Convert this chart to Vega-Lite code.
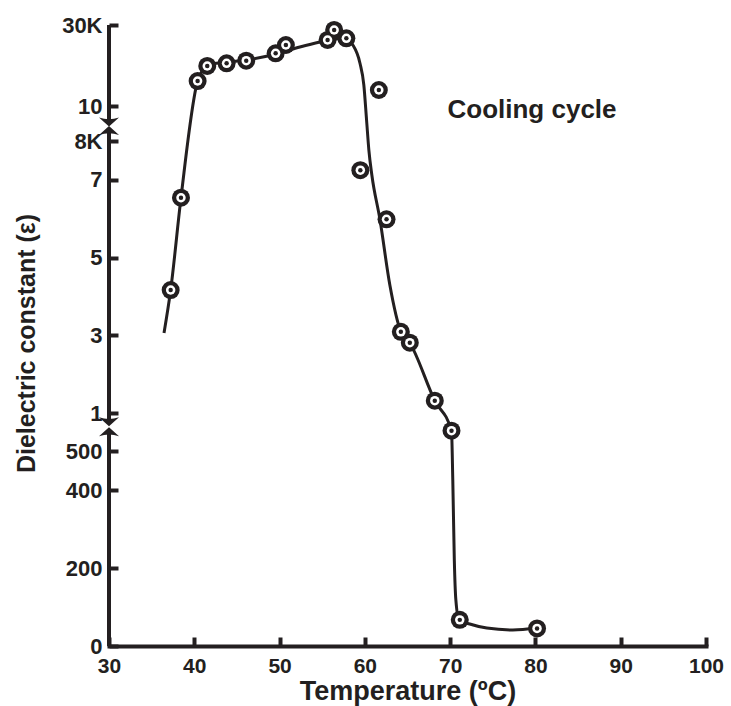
{
  "$schema": "https://vega.github.io/schema/vega-lite/v6.json",
  "width": 597,
  "height": 621,
  "autosize": {"type": "none"},
  "padding": {"left": 109, "top": 25, "right": 25, "bottom": 60},
  "background": "white",
  "config": {
    "view": {"stroke": null},
    "font": "Liberation Sans",
    "axis": {"grid": false, "labelFont": "Liberation Sans", "titleFont": "Liberation Sans", "labelFontWeight": "bold", "titleFontWeight": "bold", "labelColor": "#231f20", "titleColor": "#231f20", "tickColor": "#231f20", "domainColor": "#231f20"}
  },
  "datasets": {
    "points": [
      {"T": 37.23, "eps": 4165}, {"T": 38.44, "eps": 6540}, {"T": 40.39, "eps": 16170},
      {"T": 41.52, "eps": 19880}, {"T": 43.79, "eps": 20540}, {"T": 46.09, "eps": 21190},
      {"T": 49.54, "eps": 23010}, {"T": 50.74, "eps": 25060}, {"T": 55.63, "eps": 26300},
      {"T": 56.40, "eps": 28770}, {"T": 57.83, "eps": 26720}, {"T": 61.64, "eps": 13950},
      {"T": 59.47, "eps": 7250}, {"T": 62.54, "eps": 5985}, {"T": 64.22, "eps": 3090},
      {"T": 65.27, "eps": 2810}, {"T": 68.20, "eps": 1317}, {"T": 70.16, "eps": 767},
      {"T": 71.13, "eps": 67}, {"T": 80.19, "eps": 45}
    ],
    "curve": [
      {"T": 36.45, "eps": 3059}, {"T": 37.23, "eps": 4165}, {"T": 38.44, "eps": 6540},
      {"T": 40.39, "eps": 16170}, {"T": 41.0, "eps": 18889}, {"T": 42.07, "eps": 20370},
      {"T": 43.83, "eps": 20864}, {"T": 46.17, "eps": 21358}, {"T": 49.57, "eps": 22840},
      {"T": 52.38, "eps": 24568}, {"T": 54.73, "eps": 25802}, {"T": 56.49, "eps": 26543},
      {"T": 57.66, "eps": 26667}, {"T": 58.59, "eps": 25062}, {"T": 59.42, "eps": 20617},
      {"T": 59.88, "eps": 15185}, {"T": 60.2, "eps": 9200}, {"T": 60.47, "eps": 7768},
      {"T": 60.82, "eps": 7125}, {"T": 61.76, "eps": 5992}, {"T": 62.93, "eps": 4294},
      {"T": 64.22, "eps": 3092}, {"T": 65.27, "eps": 2801}, {"T": 68.20, "eps": 1317},
      {"T": 70.16, "eps": 763}, {"T": 70.31, "eps": 426}, {"T": 70.49, "eps": 220},
      {"T": 70.67, "eps": 118}, {"T": 71.05, "eps": 66.7}, {"T": 72.3, "eps": 56.4},
      {"T": 74.3, "eps": 46}, {"T": 77.35, "eps": 41}, {"T": 80.16, "eps": 46}
    ],
    "axisSegs": [
      {"T": 30, "eps": 0, "eps2": 754},
      {"T": 30, "eps": 885, "eps2": 8600},
      {"T": 30, "eps": 9086, "eps2": 30000}
    ],
    "breakDown": [{"T": 30, "eps": 885}, {"T": 30, "eps": 9086}],
    "breakUp": [{"T": 30, "eps": 754}, {"T": 30, "eps": 8600}],
    "note": [{"T": 79.6, "eps": 9771, "label": "Cooling cycle"}]
  },
  "encoding": {
    "x": {
      "field": "T", "type": "quantitative",
      "scale": {"domain": [30, 100], "nice": false, "zero": false},
      "axis": {
        "title": "Temperature (ºC)", "titleFontSize": 27, "titlePadding": 2,
        "values": [30, 40, 50, 60, 70, 80, 90, 100], "format": "d",
        "labelFontSize": 21, "labelPadding": 18, "labelFlush": false,
        "tickSize": -9, "tickWidth": 4, "domainWidth": 4, "domainCap": "square"
      }
    },
    "y": {
      "field": "eps", "type": "quantitative",
      "scale": {"domain": [0, 500, 1000, 8000, 10000, 30000], "range": [621, 426, 388, 116, 81, 0], "nice": false, "zero": false},
      "axis": {
        "title": "Dielectric constant (ε)", "titleFontSize": 25, "titlePadding": 22, "titleY": 318,
        "values": [0, 200, 400, 500, 1000, 3000, 5000, 7000, 8000, 10000, 30000],
        "labelExpr": "datum.value == 1000 ? '1' : datum.value == 3000 ? '3' : datum.value == 5000 ? '5' : datum.value == 7000 ? '7' : datum.value == 8000 ? '8K' : datum.value == 10000 ? '10' : datum.value == 30000 ? '30K' : format(datum.value, 'd')",
        "labelFontSize": 22, "labelPadding": 16, "labelFlush": false, "labelOverlap": false,
        "tickSize": -9, "tickWidth": 4, "domain": false
      }
    }
  },
  "layer": [
    {
      "data": {"name": "curve"},
      "mark": {"type": "line", "interpolate": "monotone", "color": "#231f20", "strokeWidth": 3}
    },
    {
      "data": {"name": "axisSegs"},
      "mark": {"type": "rule", "color": "#231f20", "strokeWidth": 4},
      "encoding": {"y2": {"field": "eps2"}}
    },
    {
      "data": {"name": "breakDown"},
      "mark": {"type": "point", "shape": "M-1,-0.45Q0,-0.1,1,-0.45L0,0.45Z", "filled": true, "color": "#231f20", "opacity": 1, "size": 400}
    },
    {
      "data": {"name": "breakUp"},
      "mark": {"type": "point", "shape": "M-1,0.45Q0,0.1,1,0.45L0,-0.45Z", "filled": true, "color": "#231f20", "opacity": 1, "size": 400}
    },
    {
      "data": {"name": "points"},
      "mark": {"type": "point", "shape": "circle", "filled": true, "color": "#231f20", "opacity": 1, "size": 324}
    },
    {
      "data": {"name": "points"},
      "mark": {"type": "point", "shape": "circle", "filled": true, "color": "white", "opacity": 1, "size": 90}
    },
    {
      "data": {"name": "points"},
      "mark": {"type": "point", "shape": "circle", "filled": true, "color": "#231f20", "opacity": 1, "size": 20}
    },
    {
      "data": {"name": "note"},
      "mark": {"type": "text", "font": "Liberation Sans", "fontWeight": "bold", "fontSize": 26, "color": "#231f20", "align": "center", "baseline": "middle"},
      "encoding": {"text": {"field": "label"}}
    }
  ]
}
